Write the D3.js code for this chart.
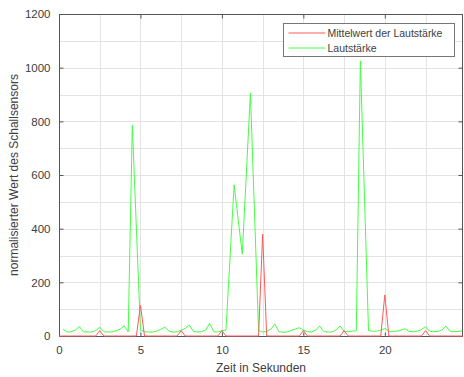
<!DOCTYPE html>
<html>
<head>
<meta charset="utf-8">
<script src="https://cdn.jsdelivr.net/npm/d3@7"></script>
<style>
  body { margin: 0; background: #fff; }
  text { font-family: "Liberation Sans", Arial, sans-serif; fill: #404040; }
</style>
</head>
<body>
<svg id="chart" width="464" height="377"></svg>
<script>
'use strict'

// Lautstärke (green)
const greenTimes = [0.25, 0.5, 0.75, 1, 1.25, 1.5, 1.75, 2, 2.25, 2.5, 2.75, 3, 3.25, 3.5, 3.75, 4, 4.25, 4.5,
  5, 5.25, 5.5, 5.75, 6, 6.25, 6.5, 6.75, 7, 7.25, 7.5, 7.75, 8, 8.25, 8.5, 8.75, 9, 9.25, 9.5, 9.75, 10, 10.25,
  10.75, 11.25, 11.75, 12.25, 12.5, 12.75, 13, 13.25, 13.5, 13.75, 14, 14.25, 14.5, 14.75, 15, 15.25, 15.5, 15.75,
  16, 16.25, 16.5, 16.75, 17, 17.25, 17.5, 17.75, 18, 18.25, 18.5, 19, 19.25, 19.5, 19.75, 20, 20.25, 20.5, 20.75,
  21, 21.25, 21.5, 21.75, 22, 22.25, 22.5, 22.75, 23, 23.25, 23.5, 23.75, 24, 24.25, 24.5, 24.8]
const greenValues = [25, 15, 16, 22, 35, 16, 15, 15, 20, 33, 16, 15, 15, 20, 25, 38, 15, 785,
  22, 16, 15, 15, 18, 25, 33, 18, 15, 15, 22, 28, 41, 17, 15, 16, 22, 47, 16, 15, 20, 22,
  563, 305, 905, 20, 15, 17, 25, 45, 16, 14, 15, 20, 26, 31, 22, 16, 15, 22,
  37, 17, 15, 15, 22, 37, 18, 16, 18, 20, 1025, 20, 18, 18, 22, 28, 18, 17, 18,
  22, 27, 17, 16, 18, 24, 35, 18, 16, 17, 22, 37, 18, 16, 17, 20]

// Mittelwert der Lautstärke (red)
const redTimes = [0, 2.25, 2.5, 2.75, 4.75, 5, 5.25, 7.25, 7.5, 7.75, 9.75, 10, 10.25, 12.25, 12.5, 12.75,
  14.75, 15, 15.25, 17.25, 17.5, 17.75, 19.75, 20, 20.25, 22.25, 22.5, 22.75, 24.8]
const redValues = [0, 0, 20, 0, 0, 115, 0, 0, 20, 0, 0, 20, 0, 0, 380, 0,
  0, 20, 0, 0, 20, 0, 0, 153, 0, 0, 20, 0, 0]

const xTicks = [0, 5, 10, 15, 20]
const yTicks = [0, 200, 400, 600, 800, 1000, 1200]
const legendLabels = ['Mittelwert der Lautstärke', 'Lautstärke']

const plotLeft = 59, plotRight = 463, plotTop = 14, plotBottom = 336
const svg = d3.select('#chart')

const x = d3.scaleLinear().domain([0, 24.8]).range([plotLeft, plotRight])
const y = d3.scaleLinear().domain([0, 1200]).range([plotBottom, plotTop])

const redColor = '#ff5a5a'
const greenColor = '#44ff44'

// grid
const grid = svg.append('g').attr('stroke', '#e3e3e3').attr('stroke-width', 1)
grid.selectAll('.gx')
  .data(d3.range(0, 24.8, 2.5))
  .enter().append('line')
  .attr('x1', d => Math.round(x(d)) + 0.5).attr('x2', d => Math.round(x(d)) + 0.5)
  .attr('y1', plotTop).attr('y2', plotBottom)
grid.selectAll('.gy')
  .data(d3.range(0, 1201, 100))
  .enter().append('line')
  .attr('y1', d => Math.round(y(d)) + 0.5).attr('y2', d => Math.round(y(d)) + 0.5)
  .attr('x1', plotLeft).attr('x2', plotRight)

// data lines
const line = d3.line().x(d => x(d[0])).y(d => y(d[1]))
svg.append('path')
  .datum(greenTimes.map((t, i) => [t, greenValues[i]]))
  .attr('fill', 'none').attr('stroke', greenColor).attr('stroke-width', 1)
  .attr('d', line)

// axes (box with inward ticks)
const axisColor = '#555'
const xb = svg.append('g').attr('transform', `translate(0,${plotBottom + 0.5})`)
  .call(d3.axisBottom(x).tickValues(xTicks).tickSize(-4).tickPadding(9).tickFormat(d3.format('d')))
const xt = svg.append('g').attr('transform', `translate(0,${plotTop + 0.5})`)
  .call(d3.axisTop(x).tickValues(xTicks).tickSize(-4).tickFormat(''))
const yl = svg.append('g').attr('transform', `translate(${plotLeft + 0.5},0)`)
  .call(d3.axisLeft(y).tickValues(yTicks).tickSize(-4).tickPadding(9).tickFormat(d3.format('d')))
const yr = svg.append('g').attr('transform', `translate(${plotRight - 0.5},0)`)
  .call(d3.axisRight(y).tickValues(yTicks).tickSize(-4).tickFormat(''))

;[xb, xt, yl, yr].forEach(g => {
  g.select('.domain').remove()
  g.selectAll('.tick line').attr('stroke', axisColor)
  g.selectAll('text').attr('font-size', 11.5).attr('fill', '#404040')
    .attr('font-family', '"Liberation Sans", Arial, sans-serif')
})
// box outline
svg.append('rect')
  .attr('x', plotLeft + 0.5).attr('y', plotTop + 0.5)
  .attr('width', plotRight - plotLeft - 1).attr('height', plotBottom - plotTop)
  .attr('fill', 'none').attr('stroke', axisColor)

// red line sits on top of the axis at zero
svg.append('path')
  .datum(redTimes.map((t, i) => [t, redValues[i]]))
  .attr('fill', 'none').attr('stroke', redColor).attr('stroke-width', 1)
  .attr('d', line)

// axis titles
svg.append('text')
  .attr('x', (plotLeft + plotRight) / 2).attr('y', 372)
  .attr('text-anchor', 'middle').attr('font-size', 12)
  .text('Zeit in Sekunden')
svg.append('text')
  .attr('transform', `translate(18,${(plotTop + plotBottom) / 2}) rotate(-90)`)
  .attr('text-anchor', 'middle').attr('font-size', 12)
  .text('normalisierter Wert des Schallsensors')

// legend
const lg = svg.append('g').attr('transform', 'translate(283.5,23.5)')
lg.append('rect').attr('width', 171).attr('height', 33)
  .attr('fill', '#fff').attr('stroke', '#777')
const legendColors = [redColor, greenColor]
legendLabels.forEach((lab, i) => {
  lg.append('line').attr('x1', 5).attr('x2', 42)
    .attr('y1', 9.5 + i * 15).attr('y2', 9.5 + i * 15)
    .style('stroke', legendColors[i]).style('stroke-width', 1)
  lg.append('text').attr('x', 44).attr('y', 13.5 + i * 15)
    .attr('font-size', 10.5).attr('fill', '#262626')
    .text(lab)
})
</script>
</body>
</html>
